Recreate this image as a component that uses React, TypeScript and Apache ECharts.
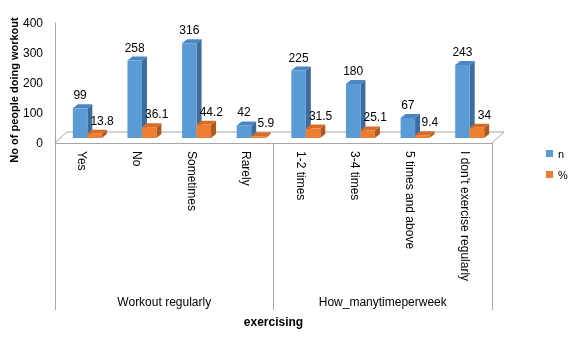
import React, { useEffect, useRef } from "react";
import * as echarts from "echarts";

const categories = ["Yes", "No", "Sometimes", "Rarely", "1-2 times", "3-4 times", "5 times and above", "I don\u2019t exercise regularly"];
const groups = ["Workout regularly", "How_manytimeperweek"];
const nValues = [99, 258, 316, 42, 225, 180, 67, 243];
const pctValues = [13.8, 36.1, 44.2, 5.9, 31.5, 25.1, 9.4, 34];
const seriesNames = ["n", "%"];
const yMin = 0;
const yMax = 400;
const yInterval = 100;

const FONT = "Liberation Sans";
const GRID_LEFT = 55;
const GRID_TOP = 23;
const GRID_RIGHT = 79;
const GRID_BOTTOM = 199;
const AXIS_COLOR = "#A6A6A6";

const SHIFT_X = 5;
const SHIFT_Y = -5;
const DEPTH_X = 5;
const DEPTH_Y = -4;

function makeRender(side: number, front: string, top: string, sideColor: string, labelDx: number) {
  return (params: any, api: any) => {
    const idx = api.value(0);
    const v = api.value(1);
    const base = api.coord([idx, 0]);
    const tp = api.coord([idx, v]);
    const catW = api.size([1, 0])[0];
    const bw = catW * 0.265;
    const cx = base[0] + SHIFT_X;
    const x0 = side === 0 ? cx - bw : cx;
    const yb = base[1] + SHIFT_Y;
    const yt = tp[1] + SHIFT_Y;
    return {
      type: "group",
      children: [
        {
          type: "polygon",
          shape: { points: [[x0 + bw, yt], [x0 + bw + DEPTH_X, yt + DEPTH_Y], [x0 + bw + DEPTH_X, yb + DEPTH_Y], [x0 + bw, yb]] },
          style: { fill: sideColor },
        },
        {
          type: "polygon",
          shape: { points: [[x0, yt], [x0 + DEPTH_X, yt + DEPTH_Y], [x0 + bw + DEPTH_X, yt + DEPTH_Y], [x0 + bw, yt]] },
          style: { fill: top },
        },
        {
          type: "rect",
          shape: { x: x0, y: yt, width: bw, height: yb - yt },
          style: { fill: front },
        },
        {
          type: "text",
          x: x0 + bw / 2 + labelDx,
          y: yt - 13,
          style: {
            text: String(v),
            align: "center",
            verticalAlign: "middle",
            fill: "#000",
            font: `12px "${FONT}"`,
          },
        },
      ],
    };
  };
}

export default function App() {
  const ref = useRef<HTMLDivElement>(null);
  useEffect(() => {
    if (!ref.current) return;
    const chart = echarts.init(ref.current, undefined, { renderer: "svg" });
    const W = 571;
    const H = 342;
    const gx0 = GRID_LEFT;
    const gx1 = W - GRID_RIGHT;
    const gy = H - GRID_BOTTOM;
    const fdx = 12;
    const fdy = -11;
    chart.setOption({
      animation: false,
      textStyle: { fontFamily: FONT },
      color: ["#5B9BD5", "#ED7D31"],
      grid: [
        { left: GRID_LEFT, right: GRID_RIGHT, top: GRID_TOP, bottom: GRID_BOTTOM },
        { left: GRID_LEFT, right: GRID_RIGHT, top: GRID_TOP, bottom: GRID_BOTTOM },
      ],
      xAxis: [
        {
          type: "category",
          gridIndex: 0,
          data: categories,
          axisLine: { show: true, lineStyle: { color: AXIS_COLOR } },
          axisTick: { show: false },
          axisLabel: { rotate: -90, margin: 8, fontSize: 12, color: "#000", fontFamily: FONT, interval: 0 },
        },
        {
          type: "category",
          gridIndex: 1,
          data: groups,
          position: "bottom",
          axisLine: { show: false },
          axisTick: { show: true, length: 167, lineStyle: { color: AXIS_COLOR } },
          axisLabel: { margin: 153, fontSize: 12, color: "#000", fontFamily: FONT, interval: 0 },
        },
      ],
      yAxis: [
        {
          type: "value",
          gridIndex: 0,
          min: yMin,
          max: yMax,
          interval: yInterval,
          axisLine: { show: true, lineStyle: { color: AXIS_COLOR } },
          axisTick: { show: false },
          splitLine: { show: false },
          axisLabel: { margin: 12, fontSize: 12, color: "#000", fontFamily: FONT },
        },
        { type: "value", gridIndex: 1, show: false, min: 0, max: 1 },
      ],
      legend: {
        orient: "vertical",
        left: 546,
        top: 148,
        padding: 0,
        icon: "rect",
        itemWidth: 7,
        itemHeight: 7,
        itemGap: 10,
        data: seriesNames,
        textStyle: { fontSize: 11, color: "#000", fontFamily: FONT },
      },
      graphic: [
        {
          type: "polyline",
          z: 0,
          silent: true,
          shape: { points: [[gx0, gy], [gx0 + fdx, gy + fdy], [gx1 + fdx, gy + fdy], [gx1, gy]] },
          style: { stroke: AXIS_COLOR, lineWidth: 1, fill: "none" },
        },
        {
          type: "text",
          x: 14,
          y: 90,
          rotation: Math.PI / 2,
          style: {
            text: "No of people doing workout",
            align: "center",
            verticalAlign: "middle",
            fill: "#000",
            font: `bold 11px "${FONT}"`,
          },
        },
        {
          type: "text",
          x: (gx0 + gx1) / 2,
          y: 322,
          style: {
            text: "exercising",
            align: "center",
            verticalAlign: "middle",
            fill: "#000",
            font: `bold 12px "${FONT}"`,
          },
        },
      ],
      series: [
        {
          name: seriesNames[0],
          type: "custom",
          xAxisIndex: 0,
          yAxisIndex: 0,
          itemStyle: { color: "#5B9BD5" },
          renderItem: makeRender(0, "#5B9BD5", "#4A86C5", "#3C6D9E", 0),
          data: nValues.map((v, i) => [i, v]),
          encode: { x: 0, y: 1 },
          z: 3,
        },
        {
          name: seriesNames[1],
          type: "custom",
          xAxisIndex: 0,
          yAxisIndex: 0,
          itemStyle: { color: "#ED7D31" },
          renderItem: makeRender(1, "#ED7D31", "#D96C25", "#AE5A1E", 7.5),
          data: pctValues.map((v, i) => [i, v]),
          encode: { x: 0, y: 1 },
          z: 4,
        },
      ],
    });
    return () => chart.dispose();
  }, []);
  return <div ref={ref} style={{ position: "fixed", left: 0, top: 0, width: 571, height: 342 }} />;
}
